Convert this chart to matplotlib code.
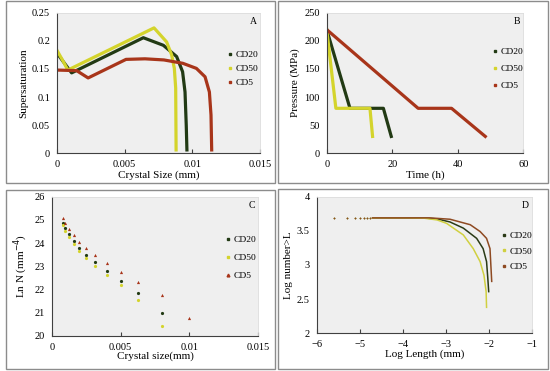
import matplotlib
matplotlib.use('Agg')
import matplotlib.pyplot as plt
from matplotlib.lines import Line2D
from matplotlib.patches import Rectangle

plt.rcParams['font.family'] = ['Liberation Serif', 'DejaVu Serif']

names = ['CD20', 'CD50', 'CD5']
colors = ['#223a14', '#d4d42c', '#a8351a']
colors_d = ['#2a3a16', '#d0d040', '#8e4a22']

# A: supersaturation vs crystal size
a_x = {
    'CD20': [0, 0.00108, 0.00638, 0.00786, 0.00884, 0.00928, 0.00946, 0.00955, 0.0096],
    'CD50': [0, 0.00047, 0.0008, 0.00717, 0.0081, 0.00847, 0.00867, 0.00877, 0.0088],
    'CD5': [0, 0.00145, 0.0023, 0.0051, 0.0065, 0.0079, 0.0093, 0.0103, 0.01094, 0.01126, 0.01138, 0.01143],
}
a_y = {
    'CD20': [0.178, 0.143, 0.2055, 0.192, 0.172, 0.145, 0.109, 0.05, 0.006],
    'CD50': [0.183, 0.163, 0.148, 0.223, 0.198, 0.175, 0.151, 0.116, 0.006],
    'CD5': [0.148, 0.147, 0.134, 0.167, 0.168, 0.166, 0.16, 0.151, 0.136, 0.109, 0.068, 0.006],
}

# B: pressure vs time
b_t = {'CD20': [0, 7.1, 17.3, 19.7], 'CD50': [0, 2.8, 13.2, 14], 'CD5': [0, 27.9, 38.1, 48.4]}
b_p = {'CD20': [220, 80, 80, 30], 'CD50': [220, 80, 80, 30], 'CD5': [220, 80, 80, 30]}

# C: ln N vs crystal size
c_x = [0.0008, 0.001, 0.00126, 0.0016, 0.002, 0.0025, 0.00317, 0.004, 0.005, 0.0063, 0.008, 0.01]
c_y = {
    'CD20': [24.88, 24.63, 24.37, 24.08, 23.8, 23.48, 23.17, 22.8, 22.36, 21.83, 20.96],
    'CD50': [24.78, 24.5, 24.24, 23.95, 23.67, 23.35, 23.0, 22.62, 22.17, 21.55, 20.4],
    'CD5': [25.1, 24.85, 24.6, 24.33, 24.05, 23.77, 23.47, 23.13, 22.75, 22.3, 21.75, 20.78],
}

# D: log number > L vs log length
d_head_x = [-5.6, -5.3, -5.12, -5.0, -4.9, -4.82, -4.75]
d_head_y = [3.69, 3.69, 3.69, 3.69, 3.69, 3.69, 3.69]
d_x = {
    'CD20': [-4.7, -4.0, -3.5, -3.2, -2.9, -2.59, -2.28, -2.13, -2.05, -2.02, -2.0],
    'CD50': [-4.7, -4.0, -3.5, -3.2, -2.98, -2.59, -2.36, -2.2, -2.11, -2.06, -2.05],
    'CD5': [-4.7, -4.0, -3.37, -2.9, -2.43, -2.2, -2.05, -1.97, -1.95, -1.93],
}
d_y = {
    'CD20': [3.69, 3.69, 3.688, 3.675, 3.63, 3.54, 3.39, 3.24, 3.05, 2.8, 2.61],
    'CD50': [3.69, 3.69, 3.685, 3.66, 3.61, 3.44, 3.24, 3.05, 2.85, 2.61, 2.38],
    'CD5': [3.69, 3.69, 3.69, 3.67, 3.59, 3.49, 3.39, 3.24, 3.0, 2.76],
}

W, H = 550, 371
fig = plt.figure(figsize=(5.5, 3.71), dpi=100)


def box(x0, y0, x1, y1):
    return [x0 / W, 1 - y1 / H, (x1 - x0) / W, (y1 - y0) / H]


for (x0, y0, x1, y1) in [(6, 1, 275, 183), (278, 1, 548, 183), (6, 190, 275, 369), (278, 189, 548, 369)]:
    fig.add_artist(Rectangle((x0 / W, 1 - y1 / H), (x1 - x0) / W, (y1 - y0) / H,
                             transform=fig.transFigure, fill=False, edgecolor='#8c8c8c', lw=1.0))

axA = fig.add_axes(box(57, 12.7, 260, 153.3))
axB = fig.add_axes(box(326.7, 12.7, 523.3, 153.3))
axC = fig.add_axes(box(51.7, 196.7, 258.3, 335.7))
axD = fig.add_axes(box(316.7, 196.7, 531.7, 333.3))


def style(ax, letter):
    ax.set_facecolor('#efefef')
    for s in ['top', 'right']:
        ax.spines[s].set_color('#dcdcdc')
        ax.spines[s].set_linewidth(0.6)
    for s in ['left', 'bottom']:
        ax.spines[s].set_color('#404040')
        ax.spines[s].set_linewidth(0.8)
    ax.tick_params(axis='x', direction='in', length=3, labelsize=7.5, pad=5, color='#404040')
    ax.tick_params(axis='y', length=0, labelsize=7.5, pad=5)
    ax.text(0.985, 0.97, letter, transform=ax.transAxes, ha='right', va='top', fontsize=7)


def legend(ax, x, y, spacing, marker='s'):
    handles = [Line2D([], [], ls='', marker=marker, ms=2, color=c) for c in colors]
    ax.legend(handles, names, loc='center left', bbox_to_anchor=(x, y), frameon=False,
              fontsize=6.8, handlelength=0.4, handletextpad=0.4, labelspacing=spacing,
              borderpad=0)


# A
for n, c in zip(names, colors):
    axA.plot(a_x[n], a_y[n], color=c, lw=2.3, solid_joinstyle='round')
axA.set_xlim(0, 0.015)
axA.set_ylim(0, 0.25)
axA.set_xticks([0, 0.005, 0.01, 0.015])
axA.set_xticklabels(['0', '0.005', '0.01', '0.015'])
axA.set_yticks([0, 0.05, 0.1, 0.15, 0.2, 0.25])
axA.set_yticklabels(['0', '0.05', '0.1', '0.15', '0.2', '0.25'])
axA.set_xlabel('Crystal Size (mm)', fontsize=8, labelpad=1)
axA.set_ylabel('Supersaturation', fontsize=8, labelpad=3)
style(axA, 'A')
legend(axA, 0.82, 0.6, 0.55)

# B
for n, c in zip(names, colors):
    axB.plot(b_t[n], b_p[n], color=c, lw=2.3)
axB.set_xlim(0, 60)
axB.set_ylim(0, 250)
axB.set_xticks([0, 20, 40, 60])
axB.set_yticks([0, 50, 100, 150, 200, 250])
axB.set_xlabel('Time (h)', fontsize=8, labelpad=1)
axB.set_ylabel('Pressure (MPa)', fontsize=8, labelpad=3)
style(axB, 'B')
legend(axB, 0.82, 0.6, 0.9)

# C
markers = ['o', 'o', '^']
for i, (n, c) in enumerate(zip(names, colors)):
    axC.plot(c_x[:len(c_y[n])], c_y[n], ls='', marker=markers[i], ms=2.3, color=c, mec='none')
axC.set_xlim(0, 0.015)
axC.set_ylim(20, 26)
axC.set_xticks([0, 0.005, 0.01, 0.015])
axC.set_xticklabels(['0', '0.005', '0.01', '0.015'])
axC.set_yticks([20, 21, 22, 23, 24, 25, 26])
axC.set_xlabel('Crystal size(mm)', fontsize=8, labelpad=0)
axC.set_ylabel('Ln N (mm$^{-4}$)', fontsize=8, labelpad=3)
style(axC, 'C')
legend(axC, 0.82, 0.56, 1.0)
axC.get_legend().legend_handles[2].set_marker('^')

# D
for n, c in zip(names, colors_d):
    axD.plot(d_head_x, d_head_y, ls='', marker='o', ms=1.2, color=c, mec='none')
    axD.plot(d_x[n], d_y[n], color=c, lw=1.1)
axD.set_xlim(-6, -1)
axD.set_ylim(2, 4)
axD.set_xticks([-6, -5, -4, -3, -2, -1])
axD.set_yticks([2, 2.5, 3, 3.5, 4])
axD.set_yticklabels(['2', '2.5', '3', '3.5', '4'])
axD.set_xlabel('Log Length (mm)', fontsize=8, labelpad=0)
axD.set_ylabel('Log number>L', fontsize=8, labelpad=3)
style(axD, 'D')
handles = [Line2D([], [], ls='', marker='s', ms=1.5, color=c) for c in colors_d]
axD.legend(handles, names, loc='center left', bbox_to_anchor=(0.84, 0.6), frameon=False,
           fontsize=6.8, handlelength=0.4, handletextpad=0.4, labelspacing=0.75, borderpad=0)

fig.savefig('out.png', dpi=100)
